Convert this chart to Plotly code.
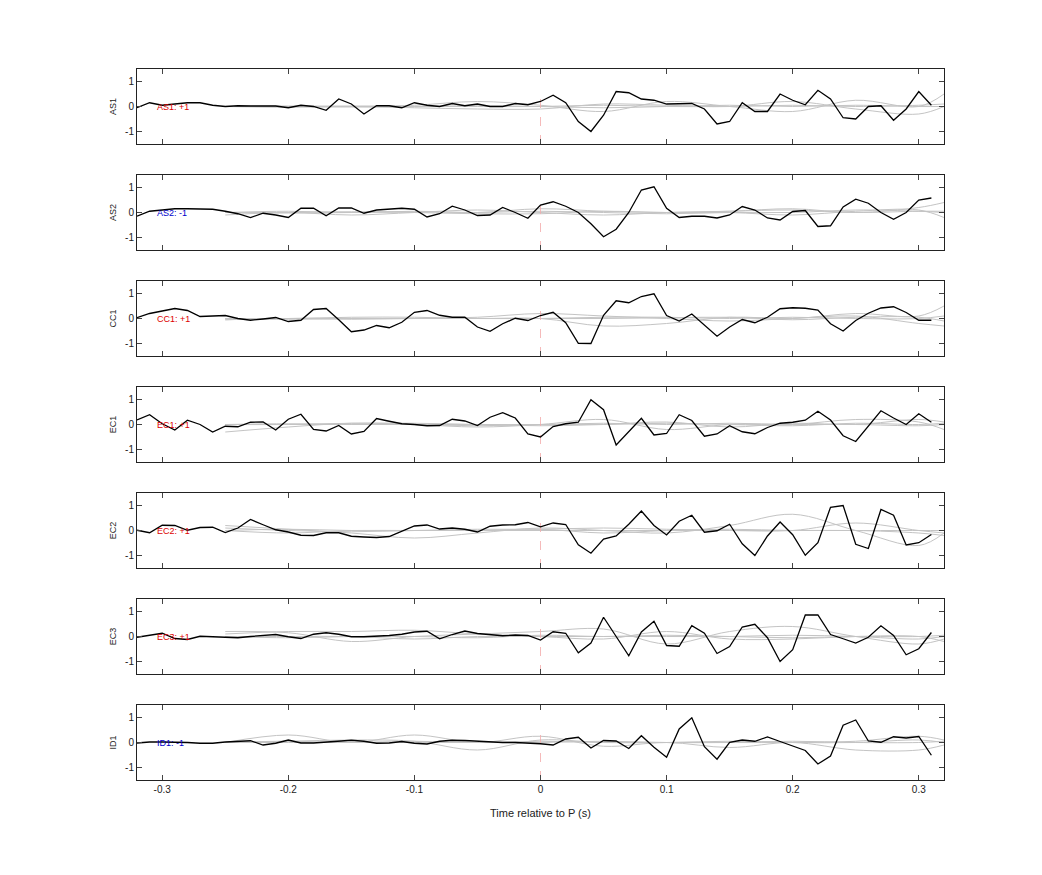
import plotly.graph_objects as go
from plotly.subplots import make_subplots

t = [round(-0.32 + 0.01 * k, 2) for k in range(64)]
names = ["AS1", "AS2", "CC1", "EC1", "EC2", "EC3", "ID1"]
signs = ["+1", "-1", "+1", "+1", "+1", "+1", "-1"]

AS1 = [-0.05, 0.15, 0.05, 0.1, 0.15, 0.15, 0.05, 0.0, 0.03, 0.02, 0.03, 0.02, -0.05, 0.05, 0.0, -0.15,
       0.3, 0.1, -0.3, 0.03, 0.03, -0.05, 0.15, 0.05, 0.0, 0.12, 0.03, 0.1, 0.0, 0.0, 0.12, 0.07,
       0.2, 0.45, 0.15, -0.6, -1.0, -0.35, 0.6, 0.55, 0.3, 0.25, 0.1, 0.1, 0.12, -0.1, -0.7, -0.6,
       0.15, -0.2, -0.2, 0.5, 0.25, 0.07, 0.65, 0.3, -0.45, -0.5, 0.0, 0.03, -0.55, -0.1, 0.6, 0.05]
AS2 = [-0.15, 0.05, 0.1, 0.15, 0.15, 0.15, 0.13, 0.05, -0.05, -0.2, -0.03, -0.1, -0.2, 0.17, 0.17, -0.13,
       0.18, 0.18, -0.03, 0.1, 0.12, 0.17, 0.13, -0.18, -0.05, 0.25, 0.1, -0.12, -0.1, 0.2, 0.0, -0.23,
       0.3, 0.43, 0.25, 0.0, -0.45, -0.97, -0.67, 0.0, 0.9, 1.03, 0.17, -0.2, -0.15, -0.15, -0.22, -0.1,
       0.24, 0.1, -0.22, -0.3, 0.04, 0.08, -0.56, -0.53, 0.22, 0.53, 0.37, 0.0, -0.27, 0.0, 0.5, 0.58]
CC1 = [0.03, 0.2, 0.3, 0.4, 0.32, 0.08, 0.1, 0.12, 0.0, -0.07, -0.02, 0.04, -0.12, -0.07, 0.36, 0.4,
       -0.05, -0.53, -0.46, -0.28, -0.37, -0.15, 0.25, 0.32, 0.13, 0.05, 0.05, -0.34, -0.51, -0.21, 0.01, -0.08,
       0.12, 0.25, -0.17, -0.99, -1.0, 0.13, 0.71, 0.63, 0.88, 0.99, 0.12, -0.1, 0.18, -0.28, -0.71, -0.34,
       -0.04, -0.17, 0.05, 0.39, 0.43, 0.41, 0.34, -0.21, -0.5, -0.08, 0.21, 0.42, 0.47, 0.24, -0.07, -0.07]
EC1 = [0.18, 0.39, 0.03, -0.22, 0.17, 0.0, -0.3, -0.07, -0.09, 0.09, 0.1, -0.22, 0.21, 0.41, -0.2, -0.26,
       -0.04, -0.38, -0.28, 0.24, 0.13, 0.03, 0.0, -0.05, -0.04, 0.21, 0.14, -0.04, 0.29, 0.47, 0.26, -0.38,
       -0.5, -0.08, 0.03, 0.09, 0.99, 0.59, -0.82, -0.29, 0.25, -0.42, -0.36, 0.39, 0.16, -0.47, -0.38, -0.05,
       -0.29, -0.37, -0.12, 0.05, 0.09, 0.17, 0.53, 0.18, -0.45, -0.68, -0.07, 0.55, 0.26, 0.0, 0.43, 0.09]
EC2 = [0.01, -0.09, 0.21, 0.2, 0.01, 0.12, 0.13, -0.08, 0.1, 0.44, 0.23, 0.03, -0.06, -0.19, -0.2, -0.09,
       -0.09, -0.23, -0.26, -0.28, -0.24, -0.04, 0.18, 0.22, 0.06, 0.1, 0.05, -0.06, 0.17, 0.22, 0.23, 0.32,
       0.15, 0.3, 0.24, -0.57, -0.91, -0.34, -0.22, 0.25, 0.78, 0.2, -0.18, 0.37, 0.61, -0.07, -0.01, 0.25,
       -0.53, -1.0, -0.22, 0.34, -0.17, -0.99, -0.49, 0.93, 1.0, -0.55, -0.72, 0.84, 0.61, -0.58, -0.49, -0.16]
EC3 = [-0.03, 0.05, 0.13, -0.08, -0.12, 0.01, 0.0, -0.04, -0.05, 0.0, 0.04, 0.08, -0.01, -0.08, 0.09, 0.15,
       0.09, -0.01, -0.01, 0.0, 0.04, 0.09, 0.18, 0.21, -0.09, 0.08, 0.22, 0.12, 0.09, 0.03, 0.06, 0.04,
       -0.14, 0.19, 0.13, -0.65, -0.26, 0.77, 0.0, -0.77, 0.18, 0.61, -0.36, -0.39, 0.43, 0.13, -0.68, -0.4,
       0.38, 0.49, -0.05, -1.0, -0.53, 0.86, 0.86, 0.08, -0.09, -0.26, -0.03, 0.43, 0.04, -0.73, -0.49, 0.16]
ID1 = [-0.02, 0.02, 0.02, 0.02, 0.0, -0.03, -0.03, 0.02, 0.04, 0.07, -0.1, -0.03, 0.1, -0.02, -0.02, 0.02,
       0.07, 0.09, 0.05, -0.03, -0.02, 0.04, -0.03, -0.06, 0.05, 0.09, 0.08, 0.05, 0.03, 0.0, 0.0, -0.02,
       -0.05, -0.1, 0.14, 0.21, -0.22, 0.08, 0.06, -0.24, 0.27, -0.19, -0.59, 0.54, 0.99, -0.17, -0.67, 0.01,
       0.1, 0.05, 0.22, 0.04, -0.13, -0.32, -0.86, -0.54, 0.69, 0.9, 0.06, 0.01, 0.23, 0.18, 0.24, -0.51]
series = [AS1, AS2, CC1, EC1, EC2, EC3, ID1]

# gray reference curves (control points, drawn as splines)
gt = [-0.25, -0.2, -0.15, -0.1, -0.05, 0.0, 0.05, 0.1, 0.15, 0.2, 0.25, 0.3, 0.32]
gray = {
    "AS1": [[0.0, 0.02, 0.0, 0.05, 0.2, 0.05, -0.2, 0.2, 0.0, -0.2, 0.25, 0.0, 0.5],
            [0.0, -0.03, 0.0, -0.05, -0.1, -0.1, 0.1, 0.05, 0.0, 0.2, -0.1, -0.3, 0.0],
            [0.0, 0.0, 0.02, 0.0, 0.0, 0.0, 0.05, 0.0, 0.0, 0.05, 0.0, 0.05, 0.1],
            [0.0, 0.0, -0.02, 0.0, 0.03, 0.0, -0.05, 0.0, 0.05, 0.0, 0.05, 0.0, 0.0]],
    "AS2": [[-0.1, 0.0, -0.1, 0.0, 0.1, 0.0, -0.1, 0.0, 0.05, 0.15, 0.0, 0.2, 0.4],
            [0.0, 0.05, 0.0, 0.05, 0.0, 0.15, 0.05, 0.0, 0.0, -0.1, 0.05, 0.1, -0.2],
            [0.0, 0.0, 0.03, 0.0, -0.05, -0.05, 0.05, 0.0, 0.05, 0.1, 0.0, 0.05, 0.05],
            [0.0, -0.02, 0.0, 0.03, 0.0, 0.05, 0.0, -0.05, 0.0, 0.0, 0.1, 0.05, 0.0]],
    "CC1": [[0.0, 0.0, 0.05, 0.05, 0.0, 0.0, -0.3, -0.2, 0.05, 0.0, 0.2, 0.1, 0.5],
            [-0.05, 0.0, 0.0, 0.0, 0.05, 0.2, 0.1, 0.0, -0.1, 0.0, 0.1, -0.2, -0.3],
            [0.0, -0.03, 0.0, 0.0, 0.0, 0.0, 0.05, 0.05, 0.0, 0.05, 0.0, 0.0, 0.1],
            [-0.05, 0.0, -0.03, 0.0, 0.0, 0.0, 0.0, 0.03, 0.05, -0.05, 0.05, 0.05, -0.1]],
    "EC1": [[-0.3, -0.1, 0.05, 0.0, -0.1, 0.0, 0.2, -0.2, 0.0, 0.0, 0.2, 0.1, -0.2],
            [0.0, 0.0, 0.05, 0.05, 0.0, -0.05, 0.0, 0.1, -0.1, 0.05, 0.0, 0.2, 0.1],
            [0.0, 0.0, 0.0, 0.0, 0.0, 0.0, 0.05, 0.0, 0.05, 0.0, 0.0, -0.05, 0.0],
            [0.0, 0.03, 0.0, 0.0, -0.05, 0.0, 0.0, 0.05, 0.0, -0.05, 0.05, 0.0, 0.05]],
    "EC2": [[0.2, 0.05, -0.1, -0.3, -0.1, 0.1, 0.0, -0.1, 0.2, 0.65, 0.0, -0.6, -0.1],
            [0.0, -0.1, 0.0, 0.0, 0.05, 0.05, 0.1, 0.05, 0.0, 0.0, 0.3, 0.0, -0.1],
            [0.0, 0.05, 0.0, 0.0, 0.0, 0.0, 0.0, 0.0, 0.0, 0.0, 0.0, 0.0, 0.0],
            [0.1, 0.0, -0.05, 0.0, 0.0, 0.05, -0.1, 0.0, 0.05, 0.0, 0.0, -0.1, -0.2]],
    "EC3": [[0.2, 0.15, -0.2, 0.0, 0.1, 0.2, 0.3, -0.3, 0.2, 0.4, 0.0, -0.3, -0.1],
            [0.1, 0.2, 0.2, 0.25, 0.1, 0.0, -0.1, 0.2, -0.1, -0.1, 0.0, 0.0, -0.2],
            [0.0, 0.0, 0.0, -0.1, 0.0, 0.0, 0.0, 0.0, 0.0, 0.05, 0.0, -0.1, 0.0],
            [0.0, -0.05, 0.0, 0.0, -0.05, 0.05, 0.0, 0.05, 0.0, -0.05, 0.0, 0.0, 0.05]],
    "ID1": [[0.0, 0.3, 0.0, 0.3, 0.0, 0.25, -0.15, 0.0, -0.2, 0.0, -0.3, -0.3, -0.1],
            [0.0, 0.05, 0.1, 0.05, -0.3, 0.1, 0.0, 0.0, 0.0, 0.0, 0.05, 0.25, 0.1],
            [0.0, 0.0, 0.0, 0.0, 0.0, 0.0, 0.05, 0.0, 0.0, 0.05, 0.0, 0.0, 0.05],
            [0.0, 0.05, 0.0, 0.05, 0.0, 0.05, 0.0, 0.0, 0.05, 0.0, 0.0, 0.1, 0.0]],
}

xticks = [-0.3, -0.2, -0.1, 0, 0.1, 0.2, 0.3]
xticklabels = ["-0.3", "-0.2", "-0.1", "0", "0.1", "0.2", "0.3"]

n = len(names)
fig = make_subplots(rows=n, cols=1, shared_xaxes=False, vertical_spacing=31 / 711)
font = "Liberation Sans, Arial, sans-serif"
for i, (nm, sg, ys) in enumerate(zip(names, signs, series)):
    r = i + 1
    for g in gray[nm]:
        fig.add_trace(go.Scatter(x=gt, y=g, mode="lines", line=dict(color="#c4c4c4", width=1, shape="spline"),
                                 showlegend=False, hoverinfo="skip"), row=r, col=1)
    fig.add_trace(go.Scatter(x=[0, 0], y=[-1.5, 0.45], mode="lines",
                             line=dict(color="#f2a8a8", width=0.8, dash="dash"), showlegend=False), row=r, col=1)
    fig.add_trace(go.Scatter(x=t, y=ys, mode="lines", line=dict(color="black", width=1.3),
                             showlegend=False), row=r, col=1)
    col = "#dd0000" if sg == "+1" else "#0000cc"
    fig.add_annotation(x=-0.306, y=0, text=f"{nm}: {sg}", showarrow=False, xanchor="left",
                       font=dict(color=col, size=9, family=font), row=r, col=1)
    fig.update_yaxes(range=[-1.5, 1.5], tickvals=[-1, 0, 1], ticktext=["-1", "0", "1"], ticks="inside",
                     ticklen=5, showline=True, linecolor="#222", mirror="allticks", showgrid=False,
                     zeroline=False, title=dict(text=nm, font=dict(size=9, family=font), standoff=6),
                     tickfont=dict(size=10, family=font), row=r, col=1)
    fig.update_xaxes(range=[-0.32, 0.32], tickvals=xticks, ticktext=xticklabels, ticks="inside", ticklen=5,
                     showline=True, linecolor="#222", mirror="allticks", showgrid=False, zeroline=False,
                     showticklabels=(r == n), tickfont=dict(size=10, family=font), row=r, col=1)
fig.update_xaxes(title=dict(text="Time relative to P (s)", font=dict(size=11, family=font)), row=n, col=1)
fig.update_layout(width=1042, height=875, margin=dict(l=129, r=106, t=61, b=103),
                  plot_bgcolor="white", paper_bgcolor="white", font=dict(family=font, color="#222"))
fig.write_html("out.html")
